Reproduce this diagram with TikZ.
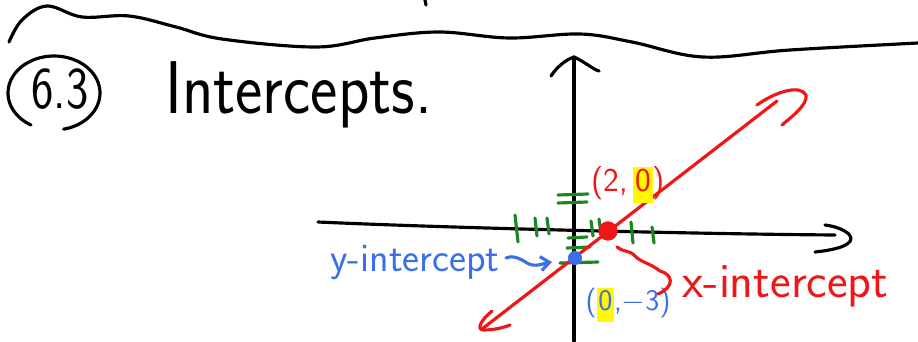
\documentclass[tikz,border=0pt]{standalone}
\usepackage{tikz}
\usetikzlibrary{arrows.meta,calc}
\definecolor{penred}{RGB}{238,22,22}
\definecolor{penblue}{RGB}{58,112,228}
\definecolor{pengreen}{RGB}{28,135,32}
\definecolor{hilite}{RGB}{255,248,0}
\tikzset{
  inkline/.style={
    line width=1.8pt,
    line cap=round,
    line join=round
  },
  inkblack/.style={inkline, draw=black},
  inkred/.style={inkline, draw=penred},
  inkblue/.style={inkline, draw=penblue},
  inkgreen/.style={inkline, draw=pengreen},
  inkdot/.style={
    circle,
    inner sep=0pt,
    minimum size=#1
  },
  inklabel/.style={
    inner sep=0pt,
    font=\sffamily\fontsize{#1}{#1}\selectfont
  }
}
\setlength{\fboxsep}{1pt}

\begin{document}
\begin{tikzpicture}[
    x=0.02cm, y=-0.02cm,
    >=Latex
    ]
    \useasboundingbox (0,0) rectangle (918,341);

    % heading
    \draw[inkblack] plot[smooth, tension=0.6] coordinates {(9,42) (22,20) (47,6) (82,17) (129,16) (176,27) (222,39) (316,47) (375,38) (439,32) (509,38) (580,34) (632,42) (703,57) (790,50) (918,43)};
    \draw[inkblack] (425,0) -- (426,5);

    \node[inklabel=27, yscale=1.25] (secnum) at (60,89) {6.3};
    \draw[inkblack] plot[smooth, domain=120:438, samples=40] ({54+46*cos(\x)},{93+37*sin(\x)});
    \node[inklabel=37, anchor=base west, yscale=1.15] (title) at (165,113) {Intercepts.};

    % axes
    \coordinate (xaxisL) at (318,222);
    \coordinate (xaxisR) at (835,235);
    \coordinate (yaxisB) at (574,341);
    \coordinate (yaxisT) at (574,57);
    \draw[inkblack] (xaxisL) .. controls (450,228) and (700,234) .. (xaxisR);
    \draw[inkblack] (825,225) .. controls (850,228) and (872,246) .. (815,252);
    \draw[inkblack] (yaxisB) -- (yaxisT);
    \draw[inkblack] (553,73) -- (551,76) .. controls (556,68) and (565,60) .. (yaxisT)
      .. controls (585,62) and (594,70) .. (599,71);

    % ticks
    \foreach \xa/\ya/\xb/\yb in {515/215/518/242, 535/218/537/236, 547/218/549/234,
        591/221/593/236, 599/219/601/234, 631/222/633/243, 652/227/654/243}
      \draw[inkgreen] (\xa,\ya) -- (\xb,\yb);
    \foreach \xa/\ya/\xb/\yb in {558/195/588/194, 558/203/587/202, 568/238/587/237,
        567/248/590/247, 560/263/598/262}
      \draw[inkgreen] (\xa,\ya) -- (\xb,\yb);

    % line
    \coordinate (lineS) at (482,329);
    \coordinate (lineE) at (777,101);
    \draw[inkred] (lineS) -- (lineE);
    \draw[inkred] (757,105) .. controls (775,92) and (800,84) .. (806,95)
      .. controls (808,105) and (790,118) .. (782,125);
    \draw[inkred] (492,311) .. controls (482,319) and (475,330) .. (484,330)
      .. controls (495,330) and (505,327) .. (510,325);

    \node[inkdot=11pt, fill=penred] (xdot) at (608,231) {};
    \node[inkdot=8pt, fill=penblue] (ydot) at (575,258) {};

    % labels
    \node[inklabel=19, text=penred] (xpoint) at (628,185) {(2,\,\colorbox{hilite}{\strut 0})};
    \node[inklabel=17, text=penblue] (ypoint) at (628,305) {(\colorbox{hilite}{\strut 0},$-$3)};

    \node[inklabel=23, text=penblue, anchor=base west] (ylabel) at (330,271) {y-intercept};
    \coordinate (ytip) at (552,262);
    \draw[inkblue, -{Straight Barb[length=5pt, width=8pt]}] ($(ylabel.east)+(6,-4)$)
      .. controls (511,255) and (520,258) .. (527,263)
      .. controls (535,268) and (545,263) .. (ytip);

    \node[inklabel=28, text=penred, anchor=base west] (xlabel) at (682,297) {x-intercept};
    \coordinate (xsq) at ($(xdot)+(9,16)$);
    \draw[inkred] (xsq) .. controls (622,252) and (630,250) .. (635,256)
      .. controls (640,262) and (650,263) .. (660,271)
      .. controls (672,274) and (676,286) .. (658,294);
\end{tikzpicture}
\end{document}
